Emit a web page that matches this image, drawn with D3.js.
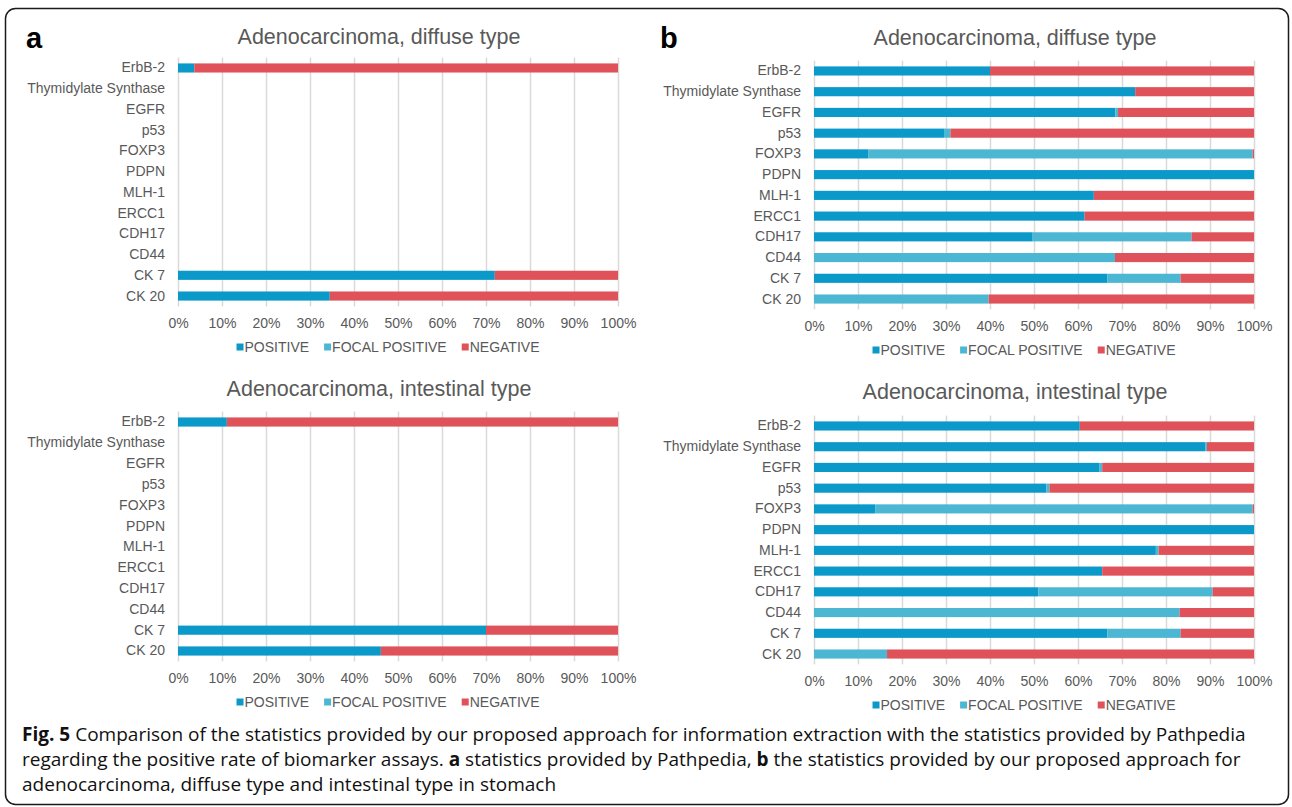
<!DOCTYPE html>
<html>
<head>
<meta charset="utf-8">
<script src="https://cdn.jsdelivr.net/npm/d3@7"></script>
<style>
  body { margin: 0; background: #fff; }
  svg { display: block; font-family: "Liberation Sans", Arial, sans-serif; }
</style>
</head>
<body>
<div id="container"></div>
<script>
/* DATA (percent of cases) */
const categories = ["ErbB-2", "Thymidylate Synthase", "EGFR", "p53", "FOXP3", "PDPN",
  "MLH-1", "ERCC1", "CDH17", "CD44", "CK 7", "CK 20"];
const seriesNames = ["POSITIVE", "FOCAL POSITIVE", "NEGATIVE"];
const tickValues = [0, 10, 20, 30, 40, 50, 60, 70, 80, 90, 100];
const tickLabels = ["0%", "10%", "20%", "30%", "40%", "50%", "60%", "70%", "80%", "90%", "100%"];

// a: Pathpedia
const aDiffusePositive   = [3.7, 0, 0, 0, 0, 0, 0, 0, 0, 0, 72, 34.5];
const aDiffuseFocal      = [0, 0, 0, 0, 0, 0, 0, 0, 0, 0, 0, 0];
const aDiffuseNegative   = [96.3, 0, 0, 0, 0, 0, 0, 0, 0, 0, 28, 65.5];
const aIntestPositive    = [11.1, 0, 0, 0, 0, 0, 0, 0, 0, 0, 70, 46.1];
const aIntestFocal       = [0, 0, 0, 0, 0, 0, 0, 0, 0, 0, 0, 0];
const aIntestNegative    = [88.9, 0, 0, 0, 0, 0, 0, 0, 0, 0, 30, 53.9];

// b: proposed approach
const bDiffusePositive   = [40, 73, 68.5, 29.7, 12.3, 100, 63.6, 61.5, 49.7, 0, 66.7, 0];
const bDiffuseFocal      = [0, 0, 0.6, 1.3, 87.4, 0, 0, 0, 36.1, 68.4, 16.6, 39.7];
const bDiffuseNegative   = [60, 27, 30.9, 69, 0.3, 0, 36.4, 38.5, 14.2, 31.6, 16.7, 60.3];
const bIntestPositive    = [60.4, 89, 64.8, 52.8, 13.9, 100, 77.7, 65.5, 51, 0, 66.7, 0];
const bIntestFocal       = [0, 0.3, 0.7, 0.7, 85.8, 0, 0.6, 0, 39.6, 83.1, 16.6, 16.6];
const bIntestNegative    = [39.6, 10.7, 34.5, 46.5, 0.3, 0, 21.7, 34.5, 9.4, 16.9, 16.7, 83.4];

const colors = ["#0a99c9", "#4bb7d3", "#e0525a"];
const textColor = "#595959";

const width = 1292, height = 807;

const svg = d3.select("#container").append("svg")
  .attr("width", width)
  .attr("height", height);

// frame
svg.append("rect")
  .attr("x", 5.5).attr("y", 8.5)
  .attr("width", 1283).attr("height", 796)
  .attr("rx", 10)
  .attr("fill", "none")
  .attr("stroke", "#1a1a1a")
  .attr("stroke-width", 1.5);

/* PANELS (layout only) */
const panels = [
  { title: "Adenocarcinoma, diffuse type", series: [aDiffusePositive, aDiffuseFocal, aDiffuseNegative],
    left: 178, right: 618, top: 57.6, bottom: 306.4, titleY: 44 },
  { title: "Adenocarcinoma, intestinal type", series: [aIntestPositive, aIntestFocal, aIntestNegative],
    left: 178, right: 618, top: 411.6, bottom: 661.4, titleY: 396 },
  { title: "Adenocarcinoma, diffuse type", series: [bDiffusePositive, bDiffuseFocal, bDiffuseNegative],
    left: 814, right: 1254, top: 60.6, bottom: 309.4, titleY: 45 },
  { title: "Adenocarcinoma, intestinal type", series: [bIntestPositive, bIntestFocal, bIntestNegative],
    left: 814, right: 1254, top: 415.6, bottom: 664.4, titleY: 399 }
];

panels.forEach(drawPanel);

function drawPanel(p) {
  const rows = categories.map((c, i) => {
    const r = { cat: c };
    seriesNames.forEach((s, j) => r[s] = p.series[j][i]);
    return r;
  });
  const stacked = d3.stack().keys(seriesNames)(rows);

  const xScale = d3.scaleLinear().domain([0, 100]).range([p.left, p.right]);
  const yScale = d3.scaleBand().domain(categories).range([p.top, p.bottom]).paddingInner(0.56).paddingOuter(0.28);

  const g = svg.append("g");

  // gridlines
  g.append("g")
    .attr("transform", `translate(0,${p.bottom})`)
    .call(d3.axisBottom(xScale).tickValues(tickValues).tickSize(-(p.bottom - p.top)).tickFormat(""))
    .call(a => a.select(".domain").remove())
    .call(a => a.selectAll("line").attr("stroke", "#d9d9d9").attr("stroke-width", 1.5));

  // bars
  g.selectAll(".layer")
    .data(stacked)
    .join("g")
    .attr("fill", (d, i) => colors[i])
    .selectAll("rect")
    .data(d => d)
    .join("rect")
    .attr("x", d => xScale(d[0]))
    .attr("width", d => xScale(d[1]) - xScale(d[0]))
    .attr("y", d => yScale(d.data.cat))
    .attr("height", yScale.bandwidth());

  // x tick labels
  g.append("g")
    .attr("transform", `translate(0,${p.bottom})`)
    .call(d3.axisBottom(xScale).tickValues(tickValues).tickSize(0).tickPadding(12)
      .tickFormat((d, i) => tickLabels[i]))
    .call(a => a.select(".domain").remove())
    .call(a => a.selectAll("text").attr("fill", textColor).style("font-size", "14px")
      .style("font-family", "'Liberation Sans', Arial, sans-serif"));

  // category labels
  g.append("g")
    .attr("transform", `translate(${p.left},0)`)
    .call(d3.axisLeft(yScale).tickSize(0).tickPadding(13))
    .call(a => a.select(".domain").remove())
    .call(a => a.selectAll("text").attr("fill", textColor).style("font-size", "14px")
      .style("font-family", "'Liberation Sans', Arial, sans-serif"));

  const cx = (p.left + p.right) / 2;

  // title
  g.append("text")
    .attr("x", cx - 19)
    .attr("y", p.titleY)
    .attr("text-anchor", "middle")
    .attr("fill", textColor)
    .style("font-size", "21.5px")
    .text(p.title);

  // legend
  const legY = p.bottom + 40.6;
  const leg = g.append("g");
  let xPos = 0;
  seriesNames.forEach((s, i) => {
    leg.append("rect")
      .attr("x", xPos).attr("y", legY - 3.5)
      .attr("width", 7).attr("height", 7)
      .attr("fill", colors[i]);
    const t = leg.append("text")
      .attr("x", xPos + 8).attr("y", legY + 5)
      .attr("fill", textColor)
      .style("font-size", "14px")
      .text(s);
    xPos += 8 + t.node().getComputedTextLength() + 15;
  });
  const legW = xPos - 15;
  leg.attr("transform", `translate(${cx - 10 - legW / 2},0)`);
}

// panel letters
svg.append("text").attr("x", 26).attr("y", 48)
  .style("font-size", "29px").style("font-weight", "bold").text("a");
svg.append("text").attr("x", 660).attr("y", 48)
  .style("font-size", "29px").style("font-weight", "bold").text("b");

/* CAPTION */
const captionLines = [
  [["Fig. 5", true], [" Comparison of the statistics provided by our proposed approach for information extraction with the statistics provided by Pathpedia", false]],
  [["regarding the positive rate of biomarker assays. ", false], ["a", true], [" statistics provided by Pathpedia, ", false], ["b", true], [" the statistics provided by our proposed approach for", false]],
  [["adenocarcinoma, diffuse type and intestinal type in stomach", false]]
];
const capFont = "'Open Sans', 'Noto Sans', sans-serif";
const capTexts = captionLines.map((line, i) => {
  const t = svg.append("text")
    .attr("x", 22).attr("y", 741 + i * 25)
    .style("font-family", capFont)
    .style("font-size", "17px")
    .attr("fill", "#111");
  line.forEach(([str, bold]) => {
    t.append("tspan").style("font-weight", bold ? "bold" : "normal").text(str);
  });
  return t;
});
// fit first line to target width
const measured = capTexts[0].node().getComputedTextLength();
const fs = 17 * 1225 / measured;
capTexts.forEach(t => t.style("font-size", fs + "px"));
</script>
</body>
</html>
